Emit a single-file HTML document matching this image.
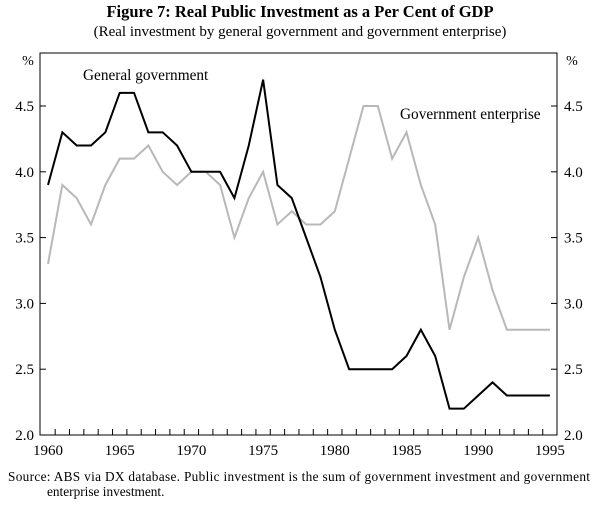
<!DOCTYPE html>
<html><head><meta charset="utf-8"><style>
body{margin:0;background:#fff;}
svg text{font-family:"Liberation Serif",serif;fill:#000;}
</style></head><body>
<svg width="600" height="503">
<text x="300" y="17" text-anchor="middle" font-size="16.5" font-weight="bold">Figure 7: Real Public Investment as a Per Cent of GDP</text>
<text x="300" y="36" text-anchor="middle" font-size="15">(Real investment by general government and government enterprise)</text>
<rect x="40" y="53" width="517" height="382" fill="none" stroke="#000" stroke-width="1"/>
<g id="axes"></g>
<g id="series"></g>
<text x="28" y="65" text-anchor="middle" font-size="14">%</text>
<text x="572" y="65" text-anchor="middle" font-size="14">%</text>
<text x="83" y="80" font-size="15.3">General government</text>
<text x="400" y="119" font-size="15.3">Government enterprise</text>
<text x="8" y="481" font-size="13.3" textLength="582" lengthAdjust="spacing">Source:  ABS via DX database. Public investment is the sum of government investment and government</text>
<text x="47" y="496" font-size="13.3">enterprise investment.</text>
</svg>
<script>
const years=[1960,1961,1962,1963,1964,1965,1966,1967,1968,1969,1970,1971,1972,1973,1974,1975,1976,1977,1978,1979,1980,1981,1982,1983,1984,1985,1986,1987,1988,1989,1990,1991,1992,1993,1994,1995];
const generalGov=[3.9,4.3,4.2,4.2,4.3,4.6,4.6,4.3,4.3,4.2,4.0,4.0,4.0,3.8,4.2,4.7,3.9,3.8,3.5,3.2,2.8,2.5,2.5,2.5,2.5,2.6,2.8,2.6,2.2,2.2,2.3,2.4,2.3,2.3,2.3,2.3];
const govEnterprise=[3.3,3.9,3.8,3.6,3.9,4.1,4.1,4.2,4.0,3.9,4.0,4.0,3.9,3.5,3.8,4.0,3.6,3.7,3.6,3.6,3.7,4.1,4.5,4.5,4.1,4.3,3.9,3.6,2.8,3.2,3.5,3.1,2.8,2.8,2.8,2.8];
const yTicks=[2.0,2.5,3.0,3.5,4.0,4.5];
const xLabels=[1960,1965,1970,1975,1980,1985,1990,1995];
const NS="http://www.w3.org/2000/svg";
const X=y=>48+14.34*(y-1960);
const Y=v=>435-(v-2)*131.6;
const axes=document.getElementById('axes'),ser=document.getElementById('series');
function mk(tag,at,parent){const e=document.createElementNS(NS,tag);for(const k in at)e.setAttribute(k,at[k]);parent.appendChild(e);return e;}
yTicks.forEach(v=>{
 const t1=mk('line',{x1:40,x2:46,y1:Y(v),y2:Y(v),stroke:'#000'},axes);
 
 
 const t2=mk('line',{x1:551,x2:557,y1:Y(v),y2:Y(v),stroke:'#000'},axes);
 
 
 const l=mk('text',{x:34,y:Y(v)+5,'text-anchor':'end','font-size':15},axes);l.textContent=v.toFixed(1);
 
 
 const r=mk('text',{x:564,y:Y(v)+5,'font-size':15},axes);r.textContent=v.toFixed(1);
 
 
});
for(let y=1960;y<1995;y++){
 const t=mk('line',{x1:X(y+0.5),x2:X(y+0.5),y1:435,y2:429,stroke:'#000'},axes);
 
 
}
xLabels.forEach(y=>{
 const l=mk('text',{x:X(y),y:455,'text-anchor':'middle','font-size':15},axes);l.textContent=y;
 
 
});
function line(vals,color,name){
 const p=mk('polyline',{points:vals.map((v,i)=>X(years[i])+','+Y(v)).join(' '),fill:'none',stroke:color,'stroke-width':2,'stroke-linejoin':'miter'},ser);
 
 
}
line(govEnterprise,'#b8b8b8','government-enterprise-line');
line(generalGov,'#000','general-government-line');
</script>
</body></html>
